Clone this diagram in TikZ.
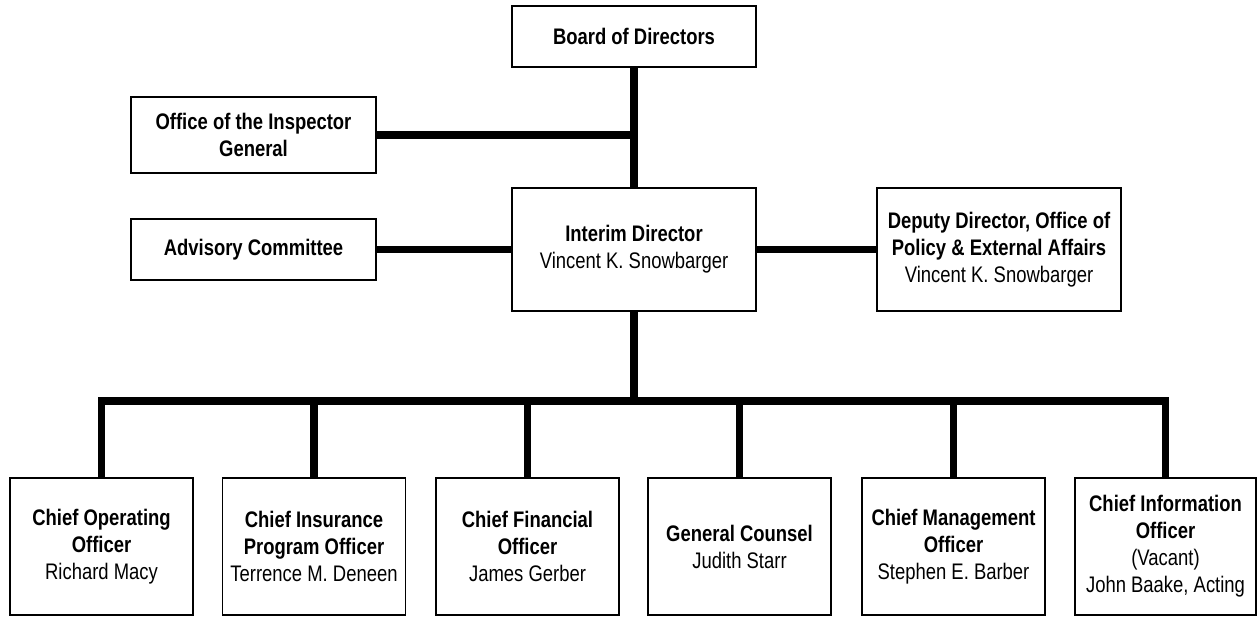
\documentclass[tikz,border=0pt]{standalone}
\usepackage{fontspec}
\setmainfont{Liberation Sans}[FakeStretch=0.82]
\begin{document}
\begin{tikzpicture}[x=1pt,y=-1pt,
  box/.style={draw=black, line width=1.8pt, fill=white, align=center, inner sep=2pt,
    font=\fontsize{22.5}{27}\selectfont},
  wire/.style={line width=7.5pt, line join=miter, line cap=rect}]
\useasboundingbox (0,0) rectangle (1257,616);
% top
\node[box, minimum width=244pt, minimum height=61pt] (board) at (634,36.5) {\textbf{Board of Directors}};
\node[box, minimum width=244pt, minimum height=123pt] (interim) at (634,249.5) {\textbf{Interim Director}\\Vincent K. Snowbarger};
\node[box, minimum width=245pt, minimum height=76pt] (oig) at (253.5,135) {\textbf{Office of the Inspector}\\\textbf{General}};
\node[box, minimum width=245pt, minimum height=61pt] (adv) at (253.5,249.5) {\textbf{Advisory Committee}};
\node[box, minimum width=244pt, minimum height=123pt] (dep) at (999,249.5) {\textbf{Deputy Director, Office of}\\\textbf{Policy \& External Affairs}\\Vincent K. Snowbarger};
% bottom row
\node[box, minimum width=183pt, minimum height=137pt] (b1) at (101.5,546.5) {\textbf{Chief Operating}\\\textbf{Officer}\\Richard Macy};
\node[box, minimum width=183pt, minimum height=137pt] (b2) at (314,546.5) {\textbf{Chief Insurance}\\\textbf{Program Officer}\\Terrence M. Deneen};
\node[box, minimum width=183pt, minimum height=137pt] (b3) at (527.5,546.5) {\textbf{Chief Financial}\\\textbf{Officer}\\James Gerber};
\node[box, minimum width=183pt, minimum height=137pt] (b4) at (739.5,546.5) {\textbf{General Counsel}\\Judith Starr};
\node[box, minimum width=183pt, minimum height=137pt] (b5) at (953.5,546.5) {\textbf{Chief Management}\\\textbf{Officer}\\Stephen E. Barber};
\node[box, minimum width=181pt, minimum height=137pt] (b6) at (1165.5,546.5) {\textbf{Chief Information}\\\textbf{Officer}\\(Vacant)\\John Baake, Acting};
\coordinate (bus) at (634,401);
% connectors
\begin{scope}[on background layer/.style={}]
\draw[wire, line cap=butt] (board.south) -- (interim.north);
\draw[wire, line cap=butt] (oig.east) -- (oig.east -| board.south);
\draw[wire, line cap=butt] (adv.east) -- (interim.west);
\draw[wire, line cap=butt] (interim.east) -- (dep.west);
\draw[wire, line cap=butt] (interim.south) -- (bus);
\draw[wire, line cap=butt] (b1.north) -- (b1.north |- bus) -- (b6.north |- bus) -- (b6.north);
\foreach \b in {b2,b3,b4,b5} \draw[wire, line cap=butt] (\b.north) -- (\b.north |- bus);
\end{scope}
\end{tikzpicture}
\end{document}
